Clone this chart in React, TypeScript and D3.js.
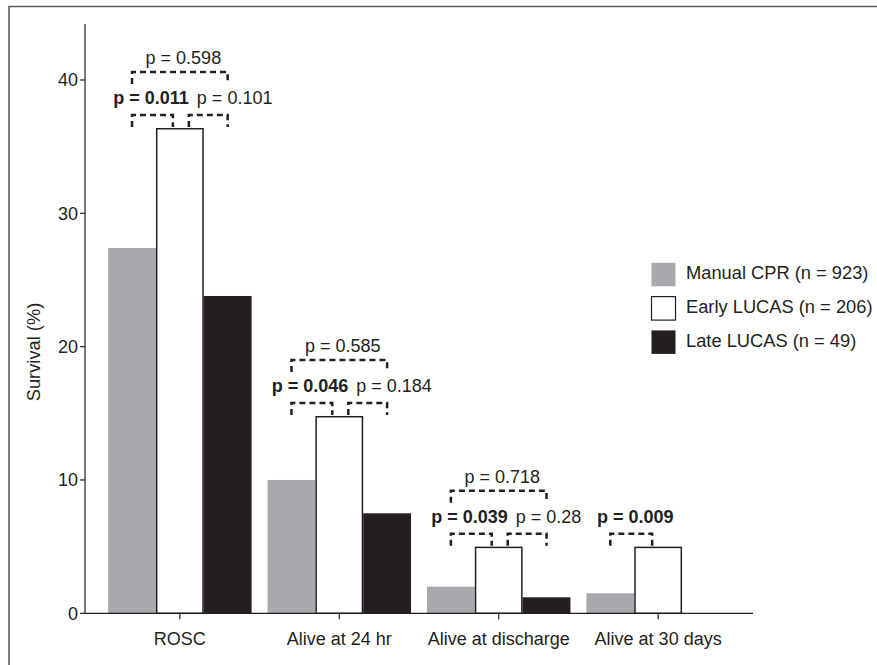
import { useMemo } from "react";
import * as d3 from "d3";

const categories = ["ROSC", "Alive at 24 hr", "Alive at discharge", "Alive at 30 days"];
const groups = ["Manual CPR", "Early LUCAS", "Late LUCAS"];
const groupN = [923, 206, 49];
const manualCPR = [27.4, 10.0, 2.0, 1.5];
const earlyLUCAS = [36.4, 14.8, 5.0, 5.0];
const lateLUCAS = [23.8, 7.5, 1.2, 0];
// p values of the comparisons drawn as dashed brackets
const pManualVsEarly = ["0.011", "0.046", "0.039", "0.009"];
const pEarlyVsLate = ["0.101", "0.184", "0.28", null];
const pManualVsLate = ["0.598", "0.585", "0.718", null];
const yTicks = [0, 10, 20, 30, 40];
const yMax = 44.2;

const FILLS = ["#a7a9ac", "#ffffff", "#231f20"];
const INK = "#231f20";
const FONT = "'Liberation Sans', Arial, Helvetica, sans-serif";

export default function App() {
  const width = 877;
  const height = 665;
  const plot = { left: 85, right: 753, top: 24, bottom: 613.3 };

  const x = useMemo(
    () => d3.scaleBand<string>().domain(categories).range([plot.left, plot.right]).paddingInner(0.1).paddingOuter(0.145),
    // eslint-disable-next-line react-hooks/exhaustive-deps
    []
  );
  const xSub = useMemo(
    () => d3.scaleBand<string>().domain(groups).range([0, x.bandwidth()]),
    [x]
  );
  const y = useMemo(
    () => d3.scaleLinear().domain([0, yMax]).range([plot.bottom, plot.top]),
    // eslint-disable-next-line react-hooks/exhaustive-deps
    []
  );

  const series = [manualCPR, earlyLUCAS, lateLUCAS];
  const bw = xSub.bandwidth();

  const bracket = (x1: number, x2: number, yTop: number, yBot: number, key: string) => (
    <path
      key={key}
      d={`M${x1},${yBot}V${yTop}H${x2}V${yBot}`}
      fill="none"
      stroke={INK}
      strokeWidth={2.5}
      strokeDasharray="6,4"
    />
  );

  const pLabel = (p: string, props: Record<string, unknown>, key: string) => (
    <text key={key} fontWeight={parseFloat(p) < 0.05 ? "bold" : "normal"} {...props}>
      p = {p}
    </text>
  );

  return (
    <svg
      width={width}
      height={height}
      style={{ position: "absolute", left: 0, top: 0, background: "#fff" }}
      fontFamily={FONT}
      fontSize={18}
      fill={INK}
    >
      {/* frame */}
      <path d={`M9,${height}V6.5H${width}`} fill="none" stroke="#5a5a5a" strokeWidth={1.6} />

      {/* bars */}
      {categories.map((cat, i) => (
        <g key={cat} transform={`translate(${x(cat)},0)`}>
          {groups.map((g, k) => {
            const v = series[k][i];
            if (v <= 0) return null;
            const white = k === 1;
            return (
              <rect
                key={g}
                x={xSub(g)! + (white ? 0.75 : 0)}
                y={y(v) + (white ? 0.75 : 0)}
                width={bw - (white ? 1.5 : 0)}
                height={y(0) - y(v) - (white ? 0.75 : 0)}
                fill={FILLS[k]}
                stroke={white ? INK : "none"}
                strokeWidth={1.5}
              />
            );
          })}
        </g>
      ))}

      {/* y axis */}
      <line x1={plot.left} x2={plot.left} y1={y(0)} y2={y(yMax)} stroke={INK} strokeWidth={1.2} />
      {yTicks.map((t) => (
        <g key={t} transform={`translate(0,${y(t)})`}>
          <line x1={plot.left - 5} x2={plot.left} stroke={INK} strokeWidth={1.2} />
          <text x={plot.left - 7} dy="0.35em" textAnchor="end">
            {t}
          </text>
        </g>
      ))}
      <text transform={`translate(40,${y(19.6)}) rotate(-90)`} textAnchor="middle" fontSize={18.3}>
        Survival (%)
      </text>

      {/* x axis */}
      <line x1={plot.left} x2={plot.right} y1={y(0)} y2={y(0)} stroke={INK} strokeWidth={1.2} />
      {categories.map((cat) => {
        const cx = x(cat)! + x.bandwidth() / 2;
        return (
          <g key={cat}>
            <line x1={cx} x2={cx} y1={y(0)} y2={y(0) + 6} stroke={INK} strokeWidth={1.2} />
            <text x={cx} y={645} textAnchor="middle">
              {cat}
            </text>
          </g>
        );
      })}

      {/* significance brackets */}
      {categories.map((cat, i) => {
        const c = groups.map((g) => x(cat)! + xSub(g)! + bw / 2);
        const top = y(earlyLUCAS[i]);
        const yH = top - 13;
        const yB = top - 1;
        const out: JSX.Element[] = [];
        const pEL = pEarlyVsLate[i];
        const pML = pManualVsLate[i];
        if (pEL) {
          out.push(bracket(c[0], c[1] - 7, yH, yB, "a"));
          out.push(bracket(c[1] + 9, c[2], yH, yB, "b"));
          out.push(pLabel(pManualVsEarly[i], { x: c[1] + 9, y: yH - 10.5, textAnchor: "end" }, "la"));
          out.push(pLabel(pEL, { x: c[1] + 17, y: yH - 10.5, textAnchor: "start" }, "lb"));
        } else {
          out.push(bracket(c[0], c[1] - 6, yH, yB, "a"));
          out.push(
            pLabel(pManualVsEarly[i], { x: (c[0] + c[1] - 6) / 2 + 4, y: yH - 11, textAnchor: "middle" }, "la")
          );
        }
        if (pML) {
          const yU = yH - 43;
          out.push(bracket(c[0], c[2], yU, yU + 12, "c"));
          out.push(pLabel(pML, { x: c[1] + 3.5, y: yU - 8, textAnchor: "middle" }, "lc"));
        }
        return <g key={cat}>{out}</g>;
      })}

      {/* legend */}
      {groups.map((g, k) => {
        const top = 262.3 + k * 33.8;
        return (
          <g key={g}>
            <rect
              x={651.5}
              y={top + 0.5}
              width={24}
              height={23.5}
              fill={FILLS[k]}
              stroke={k === 1 ? INK : "none"}
              strokeWidth={1.2}
            />
            <text x={686} y={top + 17} fontSize={18.3}>
              {g} (n = {groupN[k]})
            </text>
          </g>
        );
      })}
    </svg>
  );
}
